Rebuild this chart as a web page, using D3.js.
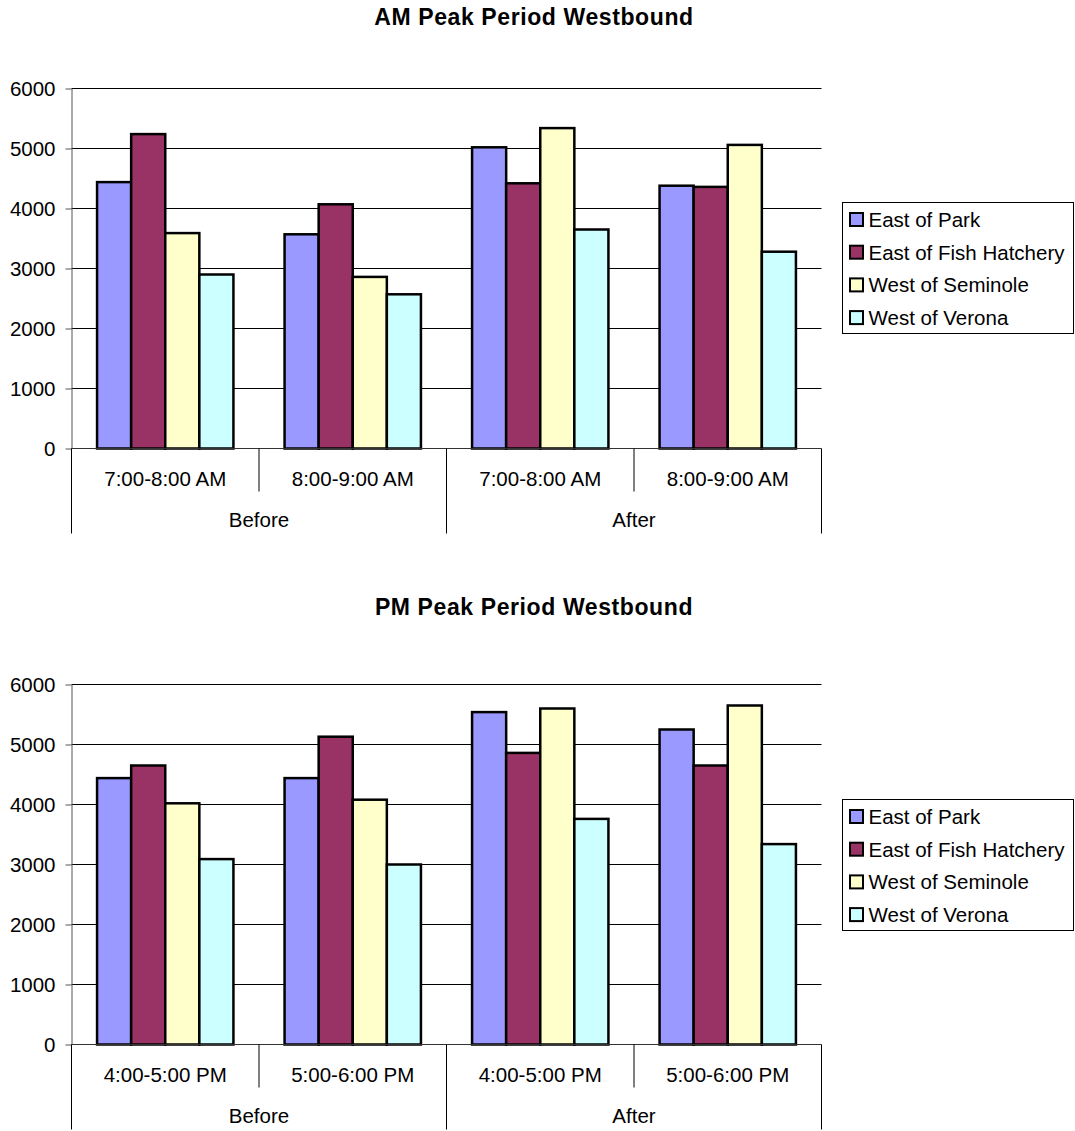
<!DOCTYPE html>
<html>
<head>
<meta charset="utf-8">
<script src="https://cdn.jsdelivr.net/npm/d3@7"></script>
<style>
  html, body { margin: 0; padding: 0; background: #fff; }
  svg { display: block; }
  text { font-family: "Liberation Sans", Arial, sans-serif; fill: #000; }
</style>
</head>
<body>
<svg id="chart" width="1075" height="1131"></svg>
<script>
// Traffic counts (vehicles per hour), westbound
const seriesNames = ["East of Park", "East of Fish Hatchery", "West of Seminole", "West of Verona"];
const seriesColors = ["#9999FF", "#993366", "#FFFFCC", "#CCFFFF"];
const periods = ["Before", "After"];
const amHours = ["7:00-8:00 AM", "8:00-9:00 AM"];
const pmHours = ["4:00-5:00 PM", "5:00-6:00 PM"];
const yTicks = [0, 1000, 2000, 3000, 4000, 5000, 6000];

// One value per category: Before/first hour, Before/second hour, After/first hour, After/second hour
const amEastOfPark = [4440, 3570, 5020, 4380];
const amEastOfFishHatchery = [5240, 4070, 4420, 4360];
const amWestOfSeminole = [3590, 2860, 5340, 5060];
const amWestOfVerona = [2900, 2570, 3650, 3280];

const pmEastOfPark = [4440, 4440, 5540, 5250];
const pmEastOfFishHatchery = [4650, 5130, 4860, 4650];
const pmWestOfSeminole = [4020, 4080, 5600, 5650];
const pmWestOfVerona = [3090, 3000, 3760, 3340];

const svg = d3.select("#chart");

function drawChart(cfg) {
  const g = svg.append("g");
  const hours = cfg.hours;
  const cats = [];
  periods.forEach(p => hours.forEach(h => cats.push(p + "|" + h)));
  const rows = cats.map((c, i) => ({
    key: c,
    period: c.split("|")[0],
    hour: c.split("|")[1],
    values: cfg.series.map(s => s[i])
  }));

  const x0 = d3.scaleBand().domain(cats).range([cfg.left, cfg.right]).padding(0);
  const x1 = d3.scaleBand().domain(seriesNames).range([0, x0.bandwidth()])
    .paddingInner(0).paddingOuter(0.75);
  const xp = d3.scaleBand().domain(periods).range([cfg.left, cfg.right]).padding(0);
  const y = d3.scaleLinear().domain([0, 6000]).range([cfg.bottom, cfg.top]);

  // Title
  g.append("text")
    .attr("x", 534).attr("y", cfg.titleY)
    .attr("text-anchor", "middle")
    .style("font-size", "23px").style("font-weight", "bold")
    .style("letter-spacing", "0.6px")
    .text(cfg.title);

  // Horizontal gridlines
  g.append("g").selectAll("line")
    .data(yTicks.filter(t => t > 0))
    .join("line")
    .attr("x1", cfg.left).attr("x2", cfg.right)
    .attr("y1", d => y(d)).attr("y2", d => y(d))
    .attr("stroke", "#000").attr("stroke-width", 1);

  // Bars
  const groups = g.append("g").selectAll("g")
    .data(rows).join("g")
    .attr("transform", d => `translate(${x0(d.key)},0)`);
  groups.selectAll("rect")
    .data(d => d.values.map((v, i) => ({ name: seriesNames[i], value: v, color: seriesColors[i] })))
    .join("rect")
    .attr("x", d => x1(d.name))
    .attr("width", x1.bandwidth())
    .attr("y", d => y(d.value))
    .attr("height", d => y(0) - y(d.value))
    .attr("fill", d => d.color)
    .attr("stroke", "#000").attr("stroke-width", 2.5);

  // Value axis
  const yAxis = d3.axisLeft(y).tickValues(yTicks).tickSize(6).tickSizeOuter(0)
    .tickPadding(10).tickFormat(d3.format("d"));
  const ya = g.append("g").attr("transform", `translate(${cfg.left},0)`).call(yAxis);
  ya.select(".domain").attr("stroke", "#555");
  ya.selectAll(".tick line").attr("stroke", "#555");
  ya.selectAll(".tick text").style("font-size", "20.5px")
    .style("font-family", "'Liberation Sans', Arial, sans-serif").attr("fill", "#000");

  // Category axis line
  g.append("line")
    .attr("x1", cfg.left).attr("x2", cfg.right)
    .attr("y1", y(0)).attr("y2", y(0))
    .attr("stroke", "#333").attr("stroke-width", 1);

  // Dividers between hour categories (short) and periods (long)
  const hourEdges = cats.map(c => x0(c)).concat([cfg.right]);
  const periodEdges = periods.map(p => xp(p)).concat([cfg.right]);
  g.append("g").selectAll("line")
    .data(hourEdges.filter(e => !periodEdges.some(p => Math.abs(p - e) < 0.5)))
    .join("line")
    .attr("x1", d => d).attr("x2", d => d)
    .attr("y1", y(0)).attr("y2", y(0) + 43)
    .attr("stroke", "#000");
  g.append("g").selectAll("line")
    .data(periodEdges)
    .join("line")
    .attr("x1", d => d).attr("x2", d => d)
    .attr("y1", y(0)).attr("y2", y(0) + 85)
    .attr("stroke", "#000");

  // Hour labels
  g.append("g").selectAll("text")
    .data(rows).join("text")
    .attr("x", d => x0(d.key) + x0.bandwidth() / 2)
    .attr("y", y(0) + 37)
    .attr("text-anchor", "middle")
    .style("font-size", "20.5px")
    .text(d => d.hour);

  // Period labels
  g.append("g").selectAll("text")
    .data(periods).join("text")
    .attr("x", d => xp(d) + xp.bandwidth() / 2)
    .attr("y", y(0) + 78.5)
    .attr("text-anchor", "middle")
    .style("font-size", "20.5px")
    .text(d => d);

  // Legend
  const lg = g.append("g");
  lg.append("rect")
    .attr("x", 842.5).attr("y", cfg.legendTop)
    .attr("width", 231).attr("height", 131)
    .attr("fill", "#fff").attr("stroke", "#000");
  const items = lg.selectAll("g.item")
    .data(seriesNames).join("g").attr("class", "item")
    .attr("transform", (d, i) => `translate(0,${cfg.legendTop + 17 + i * 32.7})`);
  items.append("rect")
    .attr("x", 850).attr("y", -6.5).attr("width", 13).attr("height", 13)
    .attr("fill", (d, i) => seriesColors[i])
    .attr("stroke", "#000").attr("stroke-width", 2);
  items.append("text")
    .attr("x", 868.5).attr("y", 7.5)
    .style("font-size", "20.5px")
    .text(d => d);
}

drawChart({
  title: "AM Peak Period Westbound",
  titleY: 25,
  hours: amHours,
  series: [amEastOfPark, amEastOfFishHatchery, amWestOfSeminole, amWestOfVerona],
  left: 71.5, right: 821.5, top: 88.5, bottom: 448.5,
  legendTop: 202.5
});

drawChart({
  title: "PM Peak Period Westbound",
  titleY: 615,
  hours: pmHours,
  series: [pmEastOfPark, pmEastOfFishHatchery, pmWestOfSeminole, pmWestOfVerona],
  left: 71.5, right: 821.5, top: 684.5, bottom: 1044.5,
  legendTop: 799.5
});
</script>
</body>
</html>
